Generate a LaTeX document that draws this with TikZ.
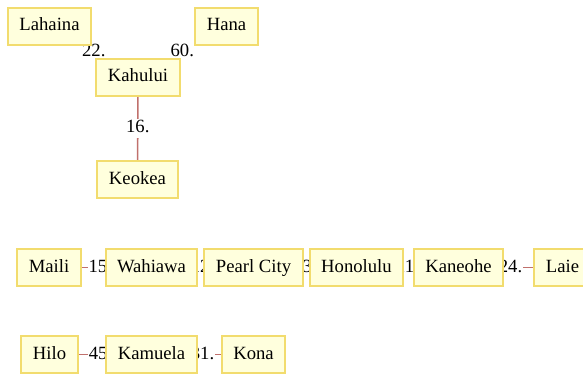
\documentclass[tikz,border=0pt]{standalone}
\usepackage{fontspec}
\setmainfont{Liberation Serif}
\usetikzlibrary{backgrounds}
\definecolor{nodefill}{HTML}{FFFFDD}
\definecolor{nodeborder}{HTML}{F2DC6E}
\definecolor{edgecol}{HTML}{C0706C}
\tikzset{
  town/.style={draw=nodeborder, fill=nodefill, line width=2pt, rectangle,
    inner xsep=11.5pt, inner ysep=0pt, minimum height=37pt,
    text height=13pt, text depth=4pt,
    font=\fontsize{18.67}{22}\selectfont},
  road/.style={draw=edgecol, line width=1.6pt},
  dist/.style={fill=white, inner sep=1pt, text height=13pt, text depth=4pt,
    font=\fontsize{18.67}{22}\selectfont}
}
\begin{document}
\begin{tikzpicture}[x=1pt,y=-1pt]
\useasboundingbox (0,0) rectangle (583,374);
\node[town] (lahaina) at (49.5,26.5) {Lahaina};
\node[town] (hana) at (226.5,26.5) {Hana};
\node[town] (kahului) at (138,77.5) {Kahului};
\node[town] (keokea) at (137.5,179.5) {Keokea};
\node[town] (maili) at (49,267.5) {Maili};
\node[town] (wahiawa) at (151.5,267.5) {Wahiawa};
\node[town] (pearl) at (253.5,267.5) {Pearl City};
\node[town] (honolulu) at (356.5,267.5) {Honolulu};
\node[town] (kaneohe) at (458.5,267.5) {Kaneohe};
\node[town] (laie) at (562.5,267.5) {Laie};
\node[town] (hilo) at (49.5,354.5) {Hilo};
\node[town] (kamuela) at (151.5,354.5) {Kamuela};
\node[town] (kona) at (253.5,354.5) {Kona};
\begin{pgfonlayer}{background}
\draw[road] (lahaina.center) -- node[dist] {22.} (kahului.center);
\draw[road] (hana.center) -- node[dist] {60.} (kahului.center);
\draw[road] (kahului.center) -- node[dist] {16.} (keokea.center);
\draw[road] (maili.center) -- node[dist] {15.} (wahiawa.center);
\draw[road] (wahiawa.center) -- node[dist] {12.} (pearl.center);
\draw[road] (pearl.center) -- node[dist] {13.} (honolulu.center);
\draw[road] (honolulu.center) -- node[dist] {11.} (kaneohe.center);
\draw[road] (kaneohe.center) -- node[dist] {24.} (laie.center);
\draw[road] (hilo.center) -- node[dist] {45.} (kamuela.center);
\draw[road] (kamuela.center) -- node[dist] {31.} (kona.center);
\end{pgfonlayer}
\end{tikzpicture}
\end{document}
